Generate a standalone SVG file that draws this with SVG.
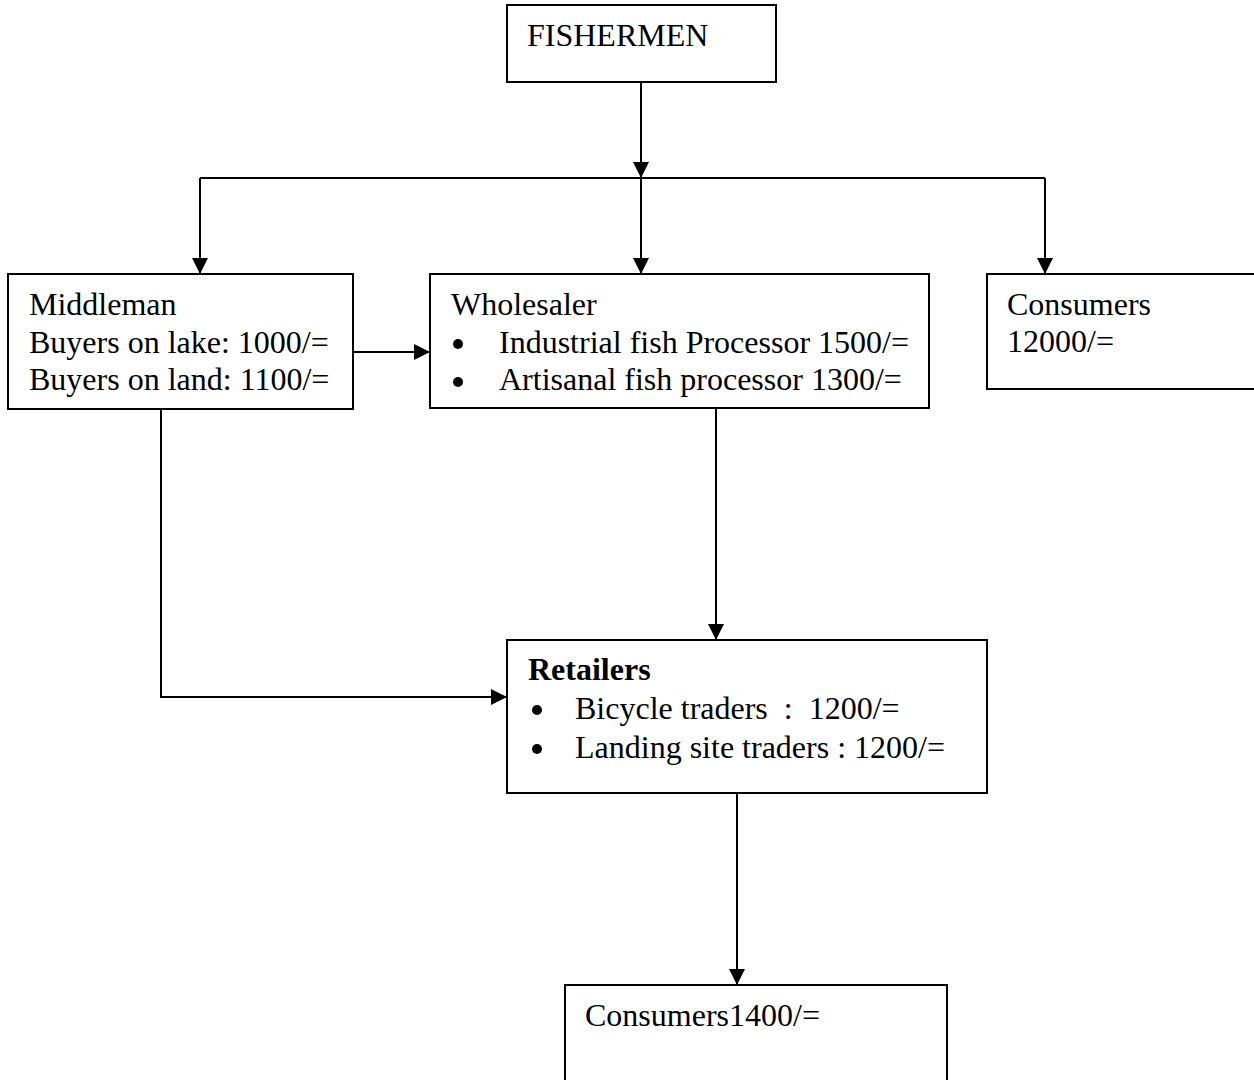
<svg xmlns="http://www.w3.org/2000/svg" width="1254" height="1080" viewBox="0 0 1254 1080">
  <style>
    .box { fill: #ffffff; stroke: #000000; stroke-width: 2; }
    .lbl { font-family: "Liberation Serif", "Times New Roman", serif; font-size: 32px; fill: #000000; }
    .bold { font-weight: bold; }
    .wire { fill: none; stroke: #000000; stroke-width: 2; }
    .dot { fill: #000000; }
  </style>
  <defs>
    <marker id="arrow" viewBox="0 0 16 16" refX="16" refY="8" markerWidth="16" markerHeight="16" markerUnits="userSpaceOnUse" orient="auto">
      <path d="M0,0 L16,8 L0,16 Z" fill="#000000"/>
    </marker>
  </defs>

  <rect width="1254" height="1080" fill="#ffffff"/>

  <!-- connectors -->
  <g id="connectors">
    <path class="wire" d="M641,82 V178" marker-end="url(#arrow)"/>
    <path class="wire" d="M200,178 H1045"/>
    <path class="wire" d="M200,178 V274" marker-end="url(#arrow)"/>
    <path class="wire" d="M641,178 V274" marker-end="url(#arrow)"/>
    <path class="wire" d="M1045,178 V274" marker-end="url(#arrow)"/>
    <path class="wire" d="M353,352 H430" marker-end="url(#arrow)"/>
    <path class="wire" d="M716,408 V640" marker-end="url(#arrow)"/>
    <path class="wire" d="M161,409 V697 H507" marker-end="url(#arrow)"/>
    <path class="wire" d="M737,793 V985" marker-end="url(#arrow)"/>
  </g>

  <!-- fishermen -->
  <g id="fishermen">
    <rect class="box" x="507" y="5" width="269" height="77"/>
    <text class="lbl" x="527" y="46">FISHERMEN</text>
  </g>

  <!-- middleman -->
  <g id="middleman">
    <rect class="box" x="8" y="274" width="345" height="135"/>
    <text class="lbl" x="29" y="315">Middleman</text>
    <text class="lbl" x="29" y="353">Buyers on lake: 1000/=</text>
    <text class="lbl" x="29" y="390">Buyers on land: 1100/=</text>
  </g>

  <!-- wholesaler -->
  <g id="wholesaler">
    <rect class="box" x="430" y="274" width="499" height="134"/>
    <text class="lbl" x="451" y="315">Wholesaler</text>
    <circle class="dot" cx="458" cy="344" r="5"/>
    <text class="lbl" x="499" y="353">Industrial fish Processor 1500/=</text>
    <circle class="dot" cx="458" cy="382" r="5"/>
    <text class="lbl" x="499" y="390">Artisanal fish processor 1300/=</text>
  </g>

  <!-- consumers (direct) -->
  <g id="consumers-direct">
    <rect class="box" x="987" y="274" width="280" height="115"/>
    <text class="lbl" x="1007" y="315">Consumers</text>
    <text class="lbl" x="1007" y="352">12000/=</text>
  </g>

  <!-- retailers -->
  <g id="retailers">
    <rect class="box" x="507" y="640" width="480" height="153"/>
    <text class="lbl bold" x="528" y="680">Retailers</text>
    <circle class="dot" cx="537" cy="710" r="5"/>
    <text class="lbl" x="575" y="719" xml:space="preserve">Bicycle traders  :  1200/=</text>
    <circle class="dot" cx="537" cy="749" r="5"/>
    <text class="lbl" x="575" y="758">Landing site traders : 1200/=</text>
  </g>

  <!-- consumers (final) -->
  <g id="consumers-final">
    <rect class="box" x="565" y="985" width="382" height="110"/>
    <text class="lbl" x="585" y="1026">Consumers1400/=</text>
  </g>
</svg>
